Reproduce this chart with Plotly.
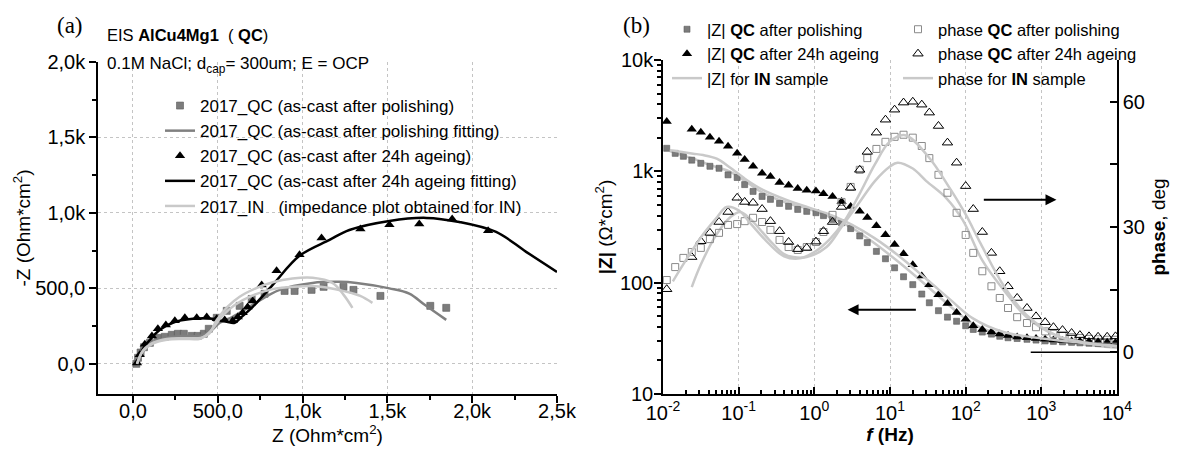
import numpy as np
import plotly.graph_objects as go

# ---------------- Panel (a): Nyquist data ----------------
pol_Z = [20, 30, 45, 65, 100, 147, 188, 229, 265, 300, 347, 382, 418, 447, 494, 553, 629, 700, 776, 894, 953, 1053, 1124, 1241, 1300, 1459, 1753, 1847]
pol_mZ = [0, 40, 75, 110, 139, 172, 179, 192, 199, 199, 185, 185, 199, 232, 305, 351, 384, 430, 464, 483, 483, 490, 510, 510, 490, 450, 384, 371]

polfit_Z = [24, 82, 159, 276, 394, 453, 512, 588, 706, 865, 1059, 1218, 1318, 1512, 1629, 1720, 1847]
polfit_mZ = [0, 113, 159, 185, 185, 212, 272, 311, 391, 490, 536, 543, 536, 500, 465, 391, 291]

age_Z = [24, 40, 70, 112, 147, 194, 247, 306, 376, 435, 494, 541, 588, 618, 647, 676, 706, 759, 847, 982, 1112, 1341, 1512, 1688, 1882, 2094]
age_mZ = [5, 60, 130, 185, 232, 258, 285, 305, 305, 311, 298, 291, 285, 311, 338, 377, 417, 523, 616, 722, 834, 894, 921, 927, 960, 881]

agefit_Z = [24, 60, 100, 159, 235, 353, 471, 553, 600, 641, 706, 824, 982, 1159, 1276, 1512, 1729, 1924, 2141, 2318, 2500]
agefit_mZ = [0, 100, 159, 225, 272, 298, 298, 278, 272, 311, 377, 523, 716, 821, 887, 947, 967, 940, 874, 742, 609]

in1_Z = [24, 60, 120, 200, 300, 400, 450, 494, 560, 629, 724, 824, 940, 1059, 1176, 1240, 1294]
in1_mZ = [0, 90, 140, 165, 170, 172, 200, 290, 380, 444, 500, 540, 565, 570, 536, 460, 371]
in2_Z = [24, 60, 120, 200, 300, 400, 460, 520, 600, 700, 824, 950, 1059, 1141, 1250, 1340, 1412]
in2_mZ = [0, 85, 135, 160, 165, 168, 220, 310, 390, 450, 495, 510, 515, 505, 480, 450, 404]

nyq_tickvals = [0, 500, 1000, 1500, 2000, 2500]
nyq_xticktext = ["0,0", "500,0", "1,0k", "1,5k", "2,0k", "2,5k"]
nyq_yticktext = ["0,0", "500,0", "1,0k", "1,5k", "2,0k"]

# ---------------- Panel (b): Bode data ----------------
f_qc = [0.0112, 0.0145, 0.0186, 0.024, 0.0316, 0.0417, 0.055, 0.0724, 0.0955, 0.120,
        0.155, 0.204, 0.263, 0.347, 0.457, 0.603, 0.794, 1.05, 1.32, 1.74,
        2.29, 3.02, 3.98, 5.01, 6.61, 8.71, 11.5, 15.1, 20.0, 26.3,
        33.1, 43.7, 57.5, 75.9, 100, 126, 166, 219, 282, 363,
        479, 646, 851, 1122, 1445, 1905, 2512, 3236, 4266, 5623, 7413, 9550]
Z_pol = [1610, 1450, 1365, 1260, 1180, 1110, 1065, 930, 880, 760,
         660, 595, 560, 515, 485, 455, 437, 425, 400, 370,
         345, 306, 263, 229, 191, 164, 136, 113, 96, 79,
         66, 56, 49, 45, 41, 38, 36, 34.5, 33, 32,
         31.5, 31, 30.5, 30, 29.7, 29.4, 29.1, 28.8, 28.6, 28.4, 28.2, 28]
Z_age = [2800, None, None, 2390, 2240, 2020, 1860, 1680, 1450, 1280,
         1110, 960, 900, 795, 750, 700, 675, 665, 630, 595,
         537, 484, 437, 385, 325, 270, 220, 182, 145, 115,
         96, 78, 65, 54, 47, 41, 38, 36, 34.5, 33.5,
         32.5, 32, 31.5, 31, 30.5, 30.2, 30, 29.8, 29.6, 29.4, 29.2, 29]
ph_pol = [17.3, 20.4, 22.6, 24.0, 25.0, 27.1, 28.6, 30.5, 30.7, 31.4,
          32.2, 31.2, 29.3, 26.9, 25.2, 24.5, 25.2, 26.4, 28.8, 32.9,
          36.0, 39.6, 43.7, 46.5, 48.7, 50.4, 51.6, 52.1, 51.4, 49.4,
          46.5, 42.5, 38.2, 33.4, 28.1, 23.8, 19.4, 15.8, 13.0, 10.6,
          8.4, 7.0, 6.0, 5.0, 4.4, 4.0, 3.6, 3.4, 3.2, 3.1, 3.0, 3.0]
ph_age = [15.1, None, None, 22.8, 26.6, 28.6, 31.2, 33.6, 37.0, 36.0,
          35.8, 34.3, 31.4, 29.0, 26.4, 24.7, 25.0, 26.5, 29.0, 31.2,
          34.8, 39.4, 43.7, 48.0, 52.6, 55.7, 58.1, 59.8, 60.0, 59.3,
          57.4, 54.2, 50.2, 45.4, 39.8, 34.3, 28.8, 23.8, 19.4, 15.8,
          13.0, 10.6, 8.6, 7.2, 6.0, 5.3, 4.6, 4.1, 3.8, 3.7, 3.7, 3.8]

f_inZ = [0.0123, 0.0178, 0.0251, 0.0339, 0.0513, 0.0759, 0.129, 0.209, 0.437, 0.871,
         1.74, 3.16, 6.31, 13.5, 31.6, 63.1, 123, 316, 1259, 3162, 10000]
Z_in1 = [1550, 1490, 1440, 1400, 1300, 1090, 830, 680, 550, 470,
         400, 330, 250, 171, 105, 70, 48, 36, 31, 29, 27]
Z_in2 = [1520, 1400, 1300, 1200, 1090, 1000, 795, 640, 520, 455,
         380, 310, 225, 150, 92, 61, 43, 34, 30, 28, 26]

f_phA = [0.0135, 0.02, 0.0316, 0.0501, 0.0692, 0.1, 0.141, 0.251, 0.398, 0.646,
         1.0, 1.58, 2.51, 3.98, 6.31, 10, 15.8, 31.6, 63.1, 100,
         158, 316, 631, 1585, 3981, 10000]
ph_inA = [17, 22, 27.5, 32, 34.8, 34, 31, 26, 23, 22.5,
          24, 27, 31.5, 38, 45, 50.5, 52, 47, 39, 33,
          26, 16, 9, 4, 2.2, 1.4]
f_phB = [0.024, 0.0316, 0.0501, 0.0794, 0.105, 0.141, 0.251, 0.398, 0.525, 0.794,
         1.45, 2.29, 3.98, 6.31, 10, 12.6, 20, 30.2, 55, 91.2,
         166, 316, 631, 1585, 3981, 10000]
ph_inB = [15.6, 21, 28, 32.5, 33.6, 32, 27, 23.5, 22.8, 22.8,
          25.2, 30, 36, 41, 44.5, 45.4, 44, 41, 37, 31.7,
          22, 15, 8.5, 4, 2.3, 1.5]

f_tickvals = [0.01, 0.1, 1, 10, 100, 1000, 10000]
f_ticktext = ["10<sup>-2</sup>", "10<sup>-1</sup>", "10<sup>0</sup>", "10<sup>1</sup>",
              "10<sup>2</sup>", "10<sup>3</sup>", "10<sup>4</sup>"]
Z_tickvals = [10, 100, 1000, 10000]
Z_ticktext = ["10", "100", "1k", "10k"]
ph_tickvals = [0, 30, 60]
ph_ticktext = ["0", "30", "60"]

# arrow anchors
arrowZ_f = [2.75, 23.0]
arrowZ_val = 57
arrowPh_f = [1585, 166]
arrowPh_val = 36.5

FONT = "Liberation Sans, Arial, sans-serif"
SERIF = "Liberation Serif, Times New Roman, serif"
SQ_GRAY = "#7c7c7c"
FIT_GRAY = "#808080"
LIGHT = "#c9c9c9"
NB = "\u00a0"

fig = go.Figure()

# ----- panel (a) traces -----
fig.add_trace(go.Scatter(x=pol_Z, y=pol_mZ, mode="markers", name="2017_QC (as-cast after polishing)",
                         marker=dict(symbol="square", size=7, color=SQ_GRAY, line=dict(width=0.6, color="#5a5a5a")),
                         xaxis="x", yaxis="y", legend="legend"))
fig.add_trace(go.Scatter(x=polfit_Z, y=polfit_mZ, mode="lines", name="2017_QC (as-cast after polishing fitting)",
                         line=dict(color=FIT_GRAY, width=2.5, shape="spline"), xaxis="x", yaxis="y", legend="legend"))
fig.add_trace(go.Scatter(x=age_Z, y=age_mZ, mode="markers", name="2017_QC (as-cast after 24h ageing)",
                         marker=dict(symbol="triangle-up", size=9, color="black"), xaxis="x", yaxis="y", legend="legend"))
fig.add_trace(go.Scatter(x=agefit_Z, y=agefit_mZ, mode="lines", name="2017_QC (as-cast after 24h ageing fitting)",
                         line=dict(color="black", width=2.5, shape="spline"), xaxis="x", yaxis="y", legend="legend"))
fig.add_trace(go.Scatter(x=in1_Z, y=in1_mZ, mode="lines",
                         name="2017_IN" + NB * 3 + "(impedance plot obtained for IN)",
                         line=dict(color=LIGHT, width=2.5, shape="spline"), xaxis="x", yaxis="y", legend="legend"))
fig.add_trace(go.Scatter(x=in2_Z, y=in2_mZ, mode="lines", showlegend=False,
                         line=dict(color=LIGHT, width=2.5, shape="spline"), xaxis="x", yaxis="y"))

# ----- panel (b) traces -----
fig.add_trace(go.Scatter(x=f_inZ, y=Z_in2, mode="lines", showlegend=False,
                         line=dict(color=LIGHT, width=2.5, shape="spline"), xaxis="x2", yaxis="y2"))
fig.add_trace(go.Scatter(x=f_phB, y=ph_inB, mode="lines", showlegend=False,
                         line=dict(color=LIGHT, width=2.5, shape="spline"), xaxis="x2", yaxis="y3"))

fig.add_trace(go.Scatter(x=f_qc, y=Z_pol, mode="markers", name="|Z| <b>QC</b> after polishing",
                         marker=dict(symbol="square", size=6, color=SQ_GRAY, line=dict(width=0.6, color="#5a5a5a")),
                         xaxis="x2", yaxis="y2", legend="legend2"))
fig.add_trace(go.Scatter(x=f_qc, y=Z_age, mode="markers", name="|Z| <b>QC</b> after 24h ageing",
                         marker=dict(symbol="triangle-up", size=9, color="black"),
                         xaxis="x2", yaxis="y2", legend="legend2"))
fig.add_trace(go.Scatter(x=f_inZ, y=Z_in1, mode="lines", name="|Z| for <b>IN</b> sample",
                         line=dict(color=LIGHT, width=2.5, shape="spline"), xaxis="x2", yaxis="y2", legend="legend2"))

fig.add_trace(go.Scatter(x=f_qc, y=ph_pol, mode="markers", name="phase <b>QC</b> after polishing",
                         marker=dict(symbol="square-open", size=7, color="#8a8a8a", line=dict(width=1)),
                         xaxis="x2", yaxis="y3", legend="legend3"))
fig.add_trace(go.Scatter(x=f_qc, y=ph_age, mode="markers", name="phase <b>QC</b> after 24h ageing",
                         marker=dict(symbol="triangle-up-open", size=9, color="black", line=dict(width=1)),
                         xaxis="x2", yaxis="y3", legend="legend3"))
fig.add_trace(go.Scatter(x=f_phA, y=ph_inA, mode="lines", name="phase for <b>IN</b> sample",
                         line=dict(color=LIGHT, width=2.5, shape="spline"), xaxis="x2", yaxis="y3", legend="legend3"))

W, H = 1179, 455
def px_x(p):
    return p / W
def px_y(p):
    return 1 - p / H

axis_common = dict(showline=True, linecolor="black", linewidth=1.5, zeroline=False,
                   tickfont=dict(family=FONT, size=20, color="black"), automargin=False,
                   tickcolor="black", title_font=dict(family=FONT, size=19, color="black"))

fig.update_layout(
    width=W, height=H, margin=dict(l=0, r=0, t=0, b=0),
    paper_bgcolor="white", plot_bgcolor="white",
    font=dict(family=FONT, color="black"),
    xaxis=dict(domain=[px_x(98), px_x(557)], range=[-206, 2500], anchor="y",
               tickvals=nyq_tickvals, ticktext=nyq_xticktext, ticks="outside", ticklen=7, tickwidth=1.5,
               ticklabelstandoff=-9,
               minor=dict(ticks="outside", ticklen=4, dtick=250, tickcolor="black", showgrid=False),
               showgrid=True, gridcolor="#c4c4c4", griddash="dot", gridwidth=1,
               title=dict(text="Z (Ohm*cm<sup>2</sup>)", standoff=2), **axis_common),
    yaxis=dict(domain=[px_y(394), px_y(62)], range=[-200, 2000], anchor="x",
               tickvals=nyq_tickvals[:5], ticktext=nyq_yticktext, ticks="outside", ticklen=7, tickwidth=1.5,
               minor=dict(ticks="outside", ticklen=4, dtick=250, tickcolor="black", showgrid=False),
               showgrid=True, gridcolor="#c4c4c4", griddash="dot", gridwidth=1,
               title=dict(text="-Z (Ohm*cm<sup>2</sup>)", standoff=0), **axis_common),
    xaxis2=dict(domain=[px_x(663), px_x(1117)], type="log", range=[-2, 4], anchor="y2",
                tickvals=f_tickvals, ticktext=f_ticktext, ticks="inside", ticklen=7, tickwidth=1.5,
                minor=dict(ticks="inside", ticklen=4, dtick="D1", tickcolor="black", showgrid=False),
                showgrid=True, gridcolor="#c4c4c4", griddash="dot", gridwidth=1,
                title=dict(text="<b><i>f</i> (Hz)</b>", standoff=4), **axis_common),
    yaxis2=dict(domain=[px_y(394), px_y(60)], type="log", range=[1, 4], anchor="x2", side="left",
                tickvals=Z_tickvals, ticktext=Z_ticktext, ticks="outside", ticklen=7, tickwidth=1.5,
                ticklabelstandoff=-3,
                minor=dict(ticks="outside", ticklen=4, dtick="D1", tickcolor="black", showgrid=False),
                showgrid=False,
                title=dict(text="<b>|Z|</b> (\u03a9*cm<sup>2</sup>)", standoff=2), **axis_common),
    yaxis3=dict(overlaying="y2", side="right", range=[-10, 70], anchor="x2",
                tickvals=ph_tickvals, ticktext=ph_ticktext, ticks="inside", ticklen=7, tickwidth=1.5,
                minor=dict(ticks="inside", ticklen=7, tick0=0, dtick=15, tickcolor="black", showgrid=False),
                showgrid=False,
                title=dict(text="<b>phase</b>, deg", standoff=8), **axis_common),
    legend=dict(x=px_x(160), y=px_y(88), xanchor="left", yanchor="top", bgcolor="rgba(0,0,0,0)",
                font=dict(family=FONT, size=17, color="black"), tracegroupgap=0),
    legend2=dict(x=px_x(667), y=px_y(12), xanchor="left", yanchor="top", bgcolor="rgba(0,0,0,0)",
                 font=dict(family=FONT, size=16.5, color="black"), tracegroupgap=0),
    legend3=dict(x=px_x(898), y=px_y(12), xanchor="left", yanchor="top", bgcolor="rgba(0,0,0,0)",
                 font=dict(family=FONT, size=16.5, color="black"), tracegroupgap=0),
)

# reference line at phase 0 on the high-frequency side
fig.add_shape(type="line", xref="x2 domain", x0=0.81, x1=1.0, yref="y3", y0=0, y1=0,
              line=dict(color="black", width=1.5))

annots = [
    dict(text="(a)", x=px_x(70), y=px_y(25), xref="paper", yref="paper", showarrow=False,
         xanchor="center", yanchor="middle", font=dict(family=SERIF, size=23, color="black")),
    dict(text="(b)", x=px_x(636), y=px_y(25), xref="paper", yref="paper", showarrow=False,
         xanchor="center", yanchor="middle", font=dict(family=SERIF, size=23, color="black")),
    dict(text="EIS <b>AlCu4Mg1</b>" + NB * 2 + "( <b>QC</b>)", x=px_x(105), y=px_y(35), xref="paper", yref="paper",
         xanchor="left", yanchor="middle", showarrow=False, font=dict(family=FONT, size=16.5, color="black")),
    dict(text="0.1M NaCl; d<sub>cap</sub>= 300um; E = OCP", x=px_x(105), y=px_y(65), xref="paper", yref="paper",
         xanchor="left", yanchor="middle", showarrow=False, font=dict(family=FONT, size=17, color="black")),
    dict(text="", xref="x2", yref="y2", axref="x2", ayref="y2",
         x=np.log10(arrowZ_f[0]), y=np.log10(arrowZ_val), ax=np.log10(arrowZ_f[1]), ay=np.log10(arrowZ_val),
         showarrow=True, arrowhead=2, arrowsize=1.1, arrowwidth=2, arrowcolor="black"),
    dict(text="", xref="x2", yref="y3", axref="x2", ayref="y3",
         x=np.log10(arrowPh_f[0]), y=arrowPh_val, ax=np.log10(arrowPh_f[1]), ay=arrowPh_val,
         showarrow=True, arrowhead=2, arrowsize=1.1, arrowwidth=2, arrowcolor="black"),
]
fig.update_layout(annotations=annots)

fig.write_html("out.html", config={"displayModeBar": False},
               post_script="document.body.style.margin='0';document.body.style.overflow='hidden';")
